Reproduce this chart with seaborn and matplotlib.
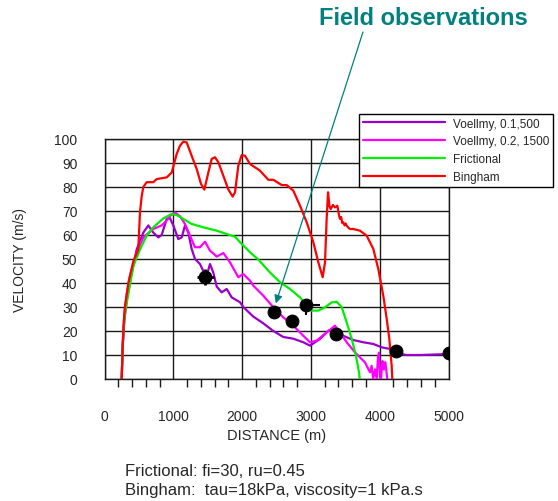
import numpy as np
import pandas as pd
import matplotlib
matplotlib.use("Agg")
import matplotlib.pyplot as plt
import seaborn as sns

# ---- simulated runout velocity profiles (distance in m, velocity in m/s) ----
voellmy1_x = [250, 265, 290, 330, 380, 468, 564, 637, 709, 782, 831, 904, 952, 1000,
              1073, 1122, 1170, 1218, 1267, 1315, 1388, 1436, 1485, 1533, 1581, 1631,
              1703, 1776, 1849, 1969, 2017, 2163, 2308, 2454, 2599, 2744, 2890, 2987,
              3132, 3253, 3350, 3471, 3616, 3762, 3907, 4029, 4150, 4198, 4300, 4392,
              4586, 4800, 4974, 5000]
voellmy1_v = [0, 14, 25, 34, 42, 54, 61, 64, 61, 59, 60, 66.7, 67, 64,
              58.3, 59, 64, 61, 54.2, 50, 47.9, 45, 43, 47.9, 44.4, 38.5,
              36.1, 37.5, 34, 32, 30, 26, 23.2, 20, 17.5, 16.8, 15.3, 13.9,
              16.7, 20.1, 21, 18, 16.25, 15.3, 14.6, 13.2, 12.5, 11.8, 10.5, 10,
              10, 10.2, 10.4, 10.4]

voellmy2_x = [250, 265, 290, 320, 371, 468, 564, 709, 831, 904, 952, 1025, 1097,
              1170, 1243, 1315, 1388, 1461, 1533, 1631, 1727, 1824, 1945, 2017, 2115,
              2163, 2308, 2454, 2599, 2744, 2890, 2987, 3084, 3229, 3350, 3423, 3520,
              3641, 3713, 3786, 3859, 3883, 3905, 3932, 3956, 3975, 3990, 4005, 4019,
              4040, 4062, 4080, 4091, 4110]
voellmy2_v = [0, 15, 27, 35, 43, 52.8, 59, 62.5, 64, 66, 68, 69.4, 67.8,
              64.6, 59.7, 54.9, 54.9, 57.2, 53.5, 51, 52.5, 48.6, 42.4, 43.75, 41,
              38.9, 34.7, 29.9, 25.7, 22.2, 18, 15.3, 16, 19.4, 22.2, 19.4, 15.3,
              11.1, 9, 6.9, 2.8, 5.5, 0, 4, 0, 9, 11, 0.5, 0,
              7.5, 4, 7, 5, 0]

frictional_x = [250, 262, 273, 300, 346, 419, 516, 613, 709, 855, 977, 1049, 1146,
                1267, 1436, 1631, 1776, 1897, 1969, 2040, 2115, 2235, 2405, 2551,
                2696, 2842, 2939, 3012, 3108, 3205, 3302, 3375, 3448, 3520, 3593,
                3655, 3699, 3709]
frictional_v = [0, 12, 19.4, 28, 35.5, 47, 54, 59.7, 63.2, 66.9, 68.75, 68.3, 66.7,
                64.6, 63.2, 61.8, 60.4, 59.3, 57, 55, 52.8, 49.8, 44.4, 40.3,
                37.5, 34, 30.5, 28.5, 28.5, 29.9, 31.9, 32.2, 29.9, 23.6, 16.7,
                9.7, 2.8, 0]

bingham_x = [250, 262, 280, 298, 323, 346, 419, 491, 516, 540, 564, 613, 709, 759,
             904, 977, 1049, 1097, 1146, 1194, 1267, 1340, 1403, 1451, 1509, 1558,
             1606, 1655, 1727, 1799, 1863, 1897, 1945, 1994, 2042, 2115, 2260, 2381,
             2454, 2576, 2648, 2744, 2842, 2939, 3035, 3108, 3171, 3205, 3229, 3249,
             3270, 3288, 3320, 3350, 3384, 3410, 3423, 3440, 3455, 3471, 3490, 3505,
             3520, 3545, 3570, 3616, 3714, 3811, 3907, 3980, 4052, 4102, 4140, 4174,
             4183]
bingham_v = [0, 12, 24, 30.5, 35, 40, 49, 54, 69.5, 76, 80, 82, 82, 83.3,
             84, 86, 93.75, 97.2, 98.9, 98.6, 93, 87.5, 81.25, 78.9, 86, 91.7,
             92.4, 90.3, 84.7, 79, 76, 77.8, 88.9, 93.3, 93, 89.6, 86.8, 83,
             83, 80.8, 80.8, 78.5, 72.2, 65.3, 57, 48.6, 42.4, 48.6, 66.7, 77.8,
             72, 70.8, 72.5, 71.5, 72.2, 68, 66.7, 67.5, 65, 65.3, 64, 64.8,
             63.9, 63, 62.5, 62.5, 61.8, 59.7, 54.2, 45.8, 34.7, 25, 16.7, 5.5,
             0]

# ---- field observations ----
obs_x = [1465, 2470, 2720, 2935, 3370, 4235, 5000]
obs_v = [42.5, 28, 24, 31, 18.75, 11.5, 10.8]

# uncertainty bars on two of the observations
bar1_x, bar1_v = 1465, 42.5
bar1_xerr, bar1_verr = [[125], [125]], [[3.5], [3.5]]
bar2_x, bar2_v = 2935, 31
bar2_xerr, bar2_verr = [[0], [190]], [[4.5], [0]]

series = [
    ("Voellmy, 0.1,500", voellmy1_x, voellmy1_v, "#9900CC"),
    ("Voellmy, 0.2, 1500", voellmy2_x, voellmy2_v, "#FF00FF"),
    ("Frictional", frictional_x, frictional_v, "#00EE00"),
    ("Bingham", bingham_x, bingham_v, "#FF0000"),
]

sns.set_style("white")
plt.rcParams["font.family"] = ["Liberation Sans", "DejaVu Sans"]

W, H = 558, 502
fig = plt.figure(figsize=(W / 100, H / 100), dpi=100)
ax = fig.add_axes([104.5 / W, 1 - 380 / H, 344 / W, 240 / H])

for name, xs, vs, col in series:
    df = pd.DataFrame({"distance": xs, "velocity": vs})
    sns.lineplot(data=df, x="distance", y="velocity", color=col, lw=1.6,
                 label=name, sort=False, estimator=None, ax=ax, zorder=3)

ax.errorbar([bar1_x], [bar1_v], xerr=bar1_xerr, yerr=bar1_verr, fmt="none",
            ecolor="black", elinewidth=2, capsize=0, zorder=4)
ax.errorbar([bar2_x], [bar2_v], xerr=bar2_xerr, yerr=bar2_verr, fmt="none",
            ecolor="black", elinewidth=1.5, capsize=0, zorder=4)
sns.scatterplot(x=obs_x, y=obs_v, color="black", s=85, edgecolor="black",
                zorder=5, ax=ax, legend=False)

ax.set_xlim(0, 5000)
ax.set_ylim(0, 100)
ax.set_xticks(np.arange(0, 5001, 1000))
ax.set_xticks(np.arange(0, 5001, 200), minor=True)
ax.set_yticks(np.arange(0, 101, 10))
ax.grid(True, which="major", color="#1a1a1a", lw=1)
ax.tick_params(axis="both", which="major", direction="out", length=12.5, width=1,
               color="#1a1a1a", labelsize=10, pad=7)
ax.tick_params(axis="x", which="minor", direction="out", length=6, width=1,
               color="#1a1a1a", bottom=True)
ax.tick_params(axis="x", which="major", pad=9)
for sp in ax.spines.values():
    sp.set_color("#1a1a1a")
    sp.set_linewidth(1)

ax.set_xlabel("DISTANCE (m)", fontsize=10.5)
ax.set_ylabel("VELOCITY (m/s)", fontsize=10)
ax.xaxis.set_label_coords(0.5, (380 - 429) / 240)
ax.yaxis.set_label_coords((27 - 104.5) / 344, 0.5)

leg = ax.legend(loc="upper left", bbox_to_anchor=(359 / W, 1 - 115 / H),
                bbox_transform=fig.transFigure, fontsize=8.5, frameon=True,
                fancybox=False, framealpha=1, edgecolor="black",
                handlelength=7.0, handletextpad=0.7, labelspacing=0.5,
                borderpad=0.3, borderaxespad=0)
leg.get_frame().set_linewidth(1)
leg.set_zorder(10)

teal = "#008080"
fig.text(423 / W, 1 - 25 / H, "Field observations", ha="center", va="baseline",
         fontsize=17, fontweight="bold", color=teal)
ax.annotate("", xy=(2490, 31.5), xycoords="data",
            xytext=(363 / W, 1 - 33 / H), textcoords="figure fraction",
            arrowprops=dict(arrowstyle="-|>", color=teal, lw=0.9,
                            mutation_scale=12, shrinkA=0, shrinkB=0),
            zorder=6)

fig.text(125 / W, 1 - 476 / H, "Frictional: fi=30, ru=0.45", fontsize=12,
         va="baseline")
fig.text(125 / W, 1 - 495 / H, "Bingham:  tau=18kPa, viscosity=1 kPa.s",
         fontsize=12, va="baseline")

fig.savefig("out.png", dpi=100)
